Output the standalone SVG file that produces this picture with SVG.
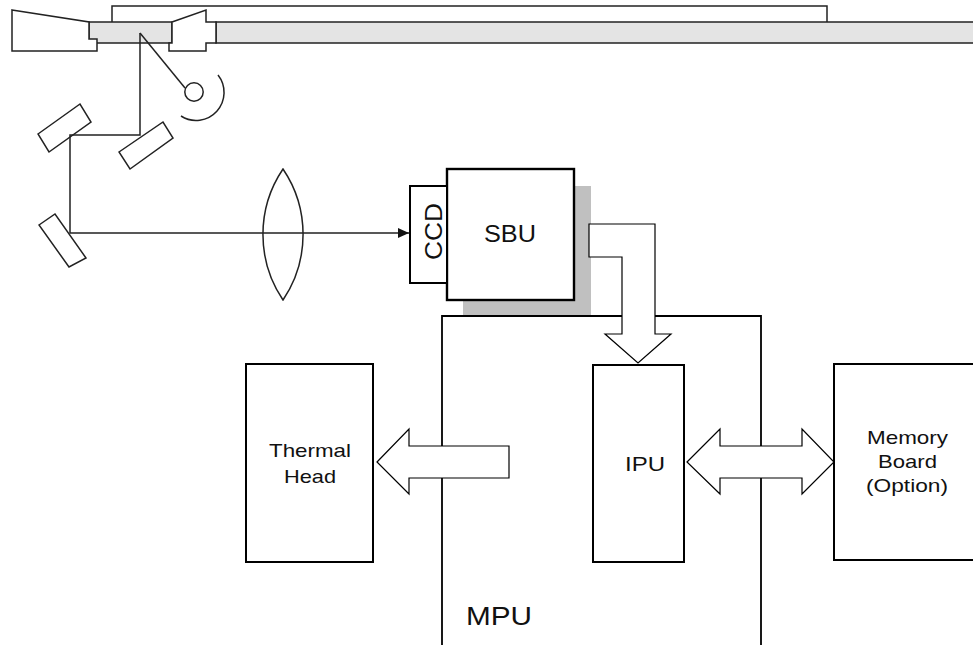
<svg xmlns="http://www.w3.org/2000/svg" width="973" height="645" viewBox="0 0 973 645">
<defs>
<style>
.ln{fill:none;stroke:#222;stroke-width:1.5}
.wh{fill:#fff;stroke:#222;stroke-width:1.5}
.gr{fill:#e4e4e4;stroke:#222;stroke-width:1.5}
.box{fill:#fff;stroke:#000;stroke-width:2}
.blk{fill:#fff;stroke:#000;stroke-width:1.2}
.t{font-family:"Liberation Sans",Arial,sans-serif;fill:#111;text-anchor:middle}
</style>
<marker id="ah" viewBox="0 0 11 10" refX="11" refY="5" markerWidth="11" markerHeight="10" markerUnits="userSpaceOnUse" orient="auto">
<path d="M0,0 L11,5 L0,10 Z" fill="#111"/>
</marker>
</defs>
<rect width="973" height="645" fill="#fff"/>

<g id="scanner">
<path class="ln" d="M112,22 V6 H827 V22"/>
<rect class="gr" x="89" y="22" width="83" height="21"/>
<rect class="gr" x="216" y="22" width="760" height="21"/>
<polygon class="wh" points="12,10 89,22 89,39 97,39 97,51 12,51"/>
<polygon class="wh" points="172,22 206,10 206,22 216,22 216,43 206,43 206,51 169,51 169,43 172,43"/>
</g>

<g id="lamp">
<circle class="ln" cx="194" cy="92" r="9.2"/>
<path class="ln" d="M218,75 A28,28 0 0 1 181,116"/>
</g>

<g id="mirrors">
<polygon class="wh" points="38,134 80,104 91,122 49,152"/>
<polygon class="wh" points="119,152 163,122 173,138 130,169"/>
<polygon class="wh" points="39,225 55,214 86,258 69,267"/>
</g>

<g id="connectors">
<path class="ln" d="M140,33 L185,88"/>
<path class="ln" d="M140,33 V135 H70 V233 H409" marker-end="url(#ah)"/>
</g>

<g id="lens">
<path class="ln" d="M283,169 A117,117 0 0 1 283,300 A117,117 0 0 1 283,169 Z"/>
</g>

<g id="sbu">
<rect x="463" y="186" width="128" height="130" fill="#c0c0c0"/>
<rect x="447" y="169" width="127" height="131" fill="#fff" stroke="#000" stroke-width="2.4"/>
<text class="t" x="510" y="241.5" font-size="23.5" textLength="52" lengthAdjust="spacingAndGlyphs">SBU</text>
</g>

<g id="ccd">
<rect class="box" x="410" y="186" width="37" height="97" stroke-width="1.8"/>
<text class="t" transform="translate(441.5,231.5) rotate(-90)" x="0" y="0" font-size="23" textLength="57" lengthAdjust="spacingAndGlyphs">CCD</text>
</g>

<g id="mpu">
<path fill="none" stroke="#000" stroke-width="1.8" d="M442,650 V316 H761 V650"/>
<text class="t" x="499" y="625" font-size="25.5" textLength="66" lengthAdjust="spacingAndGlyphs">MPU</text>
</g>

<g id="thermal-head">
<rect class="box" x="246" y="364" width="127" height="198"/>
<text class="t" x="310" y="457" font-size="18.5" textLength="82" lengthAdjust="spacingAndGlyphs">Thermal</text>
<text class="t" x="310" y="483" font-size="18.5" textLength="52" lengthAdjust="spacingAndGlyphs">Head</text>
</g>

<g id="ipu">
<rect class="box" x="593" y="365" width="91" height="197"/>
<text class="t" x="645" y="471" font-size="19.5" textLength="40" lengthAdjust="spacingAndGlyphs">IPU</text>
</g>

<g id="memory-board">
<rect class="box" x="834" y="364" width="150" height="196"/>
<text class="t" x="907.5" y="444" font-size="18.6" textLength="81" lengthAdjust="spacingAndGlyphs">Memory</text>
<text class="t" x="907.5" y="468" font-size="18.6" textLength="59" lengthAdjust="spacingAndGlyphs">Board</text>
<text class="t" x="907" y="492" font-size="18.6" textLength="82" lengthAdjust="spacingAndGlyphs">(Option)</text>
</g>

<g id="bus-arrows">
<polygon class="blk" points="589,224 655,224 655,334 671,334 638,363 605,334 622,334 622,257 589,257"/>
<polygon class="blk" points="377,462 409,429 409,446 509,446 509,478 409,478 409,494"/>
<polygon class="blk" points="687,462 720,429 720,446 802,446 802,429 834,462 802,494 802,478 720,478 720,494"/>
</g>
</svg>
